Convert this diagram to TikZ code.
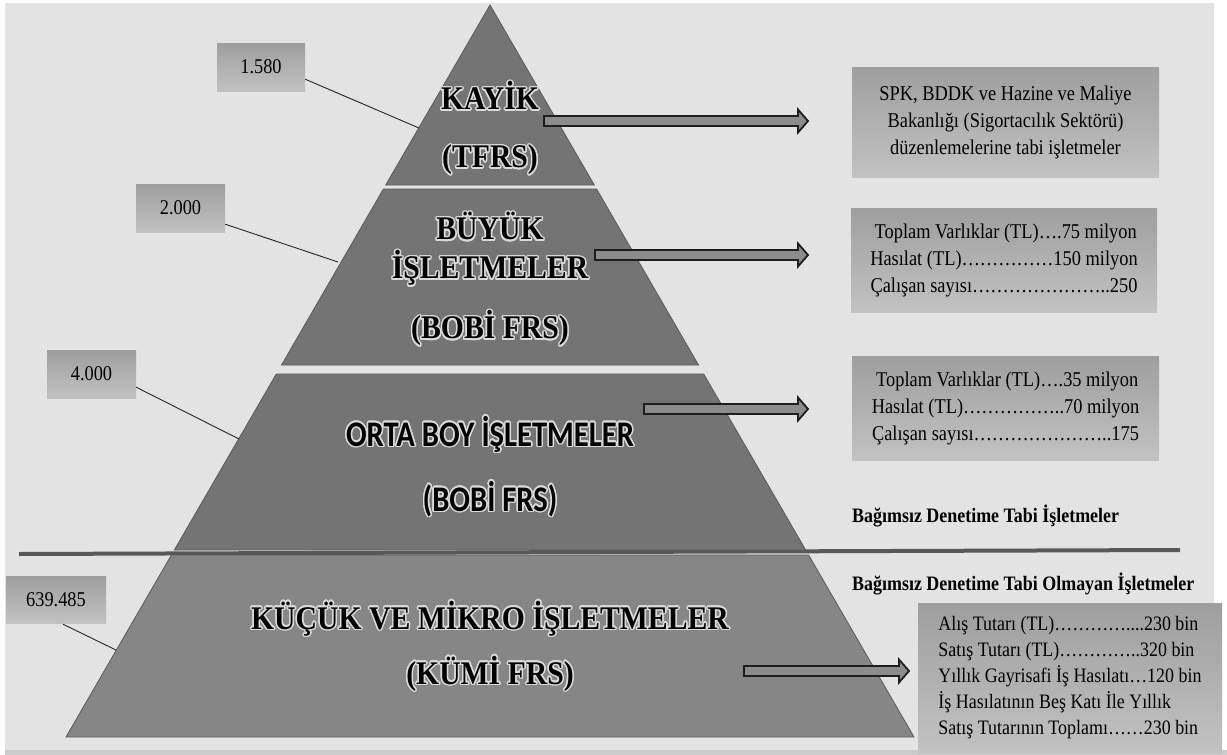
\documentclass[tikz,border=0pt]{standalone}
\usepackage{fontspec}
\setmainfont{Liberation Serif}[FakeStretch=0.875]
\newfontfamily\titlefont{Liberation Serif}[FakeStretch=0.9]
\newfontfamily\calib{Carlito}[FakeStretch=0.85]
\usepackage{contour}
\contourlength{1.5pt}
\usetikzlibrary{calc}
\definecolor{bgc}{HTML}{E3E3E3}
\definecolor{tierc}{HTML}{747474}
\definecolor{tierlow}{HTML}{868686}
\definecolor{tieredge}{HTML}{5A5A5A}
\definecolor{glowc}{HTML}{DADADA}
\definecolor{boxtop}{HTML}{9E9E9E}
\definecolor{boxbot}{HTML}{C2C2C2}
\definecolor{arrowfill}{HTML}{8C8C8C}
\definecolor{arrowedge}{HTML}{1E1E1E}
\definecolor{divc}{HTML}{585858}
\newcommand{\glow}[1]{\contour{glowc}{#1}}
\newcommand{\blockarrow}[2]{%
  \draw[arrowst] ($(#1)+(0,-5)$) -- ($(#2)+(-10,-5)$) -- ($(#2)+(-10,-11.5)$) -- (#2)
    -- ($(#2)+(-10,11.5)$) -- ($(#2)+(-10,5)$) -- ($(#1)+(0,5)$) -- cycle;}
\tikzset{
  tier/.style={fill=tierc, draw=tieredge, line width=0.8pt},
  tierbottom/.style={fill=tierlow, draw=tieredge, line width=0.8pt},
  title/.style={font={\fontsize{33}{39}\selectfont\titlefont\bfseries}, align=center, text=black},
  numbox/.style={draw=none, top color=boxtop, bottom color=boxbot, minimum height=48pt,
    font={\fontsize{21}{22}\selectfont}, inner sep=0pt},
  infobox/.style={draw=none, top color=boxtop, bottom color=boxbot, inner sep=0pt,
    font={\fontsize{21}{27}\selectfont}},
  leader/.style={draw=black!85, line width=0.9pt},
  arrowst/.style={fill=arrowfill, draw=arrowedge, line width=1.8pt, line join=miter},
  sublabel/.style={font={\fontsize{20.5}{22}\selectfont\bfseries}, anchor=west, inner sep=0pt},
}
\begin{document}
\begin{tikzpicture}[x=1pt, y=-1pt]
\useasboundingbox (0,0) rectangle (1227,755);
\fill[white] (0,0) rectangle (1227,755);
\fill[bgc] (5,3) rectangle (1214,750);
\fill[black!20] (5,750) rectangle (1227,755);

% divider line behind the pyramid
\coordinate (dl) at (19,554);
\coordinate (dr) at (1180,550);
\draw[divc, line width=4pt] (dl) -- (dr);

% pyramid tiers
\path[tier] (490,5) -- (594.3,185) -- (385.7,185) -- cycle;
\path[tier] (383.4,189) -- (596.6,189) -- (698.5,365) -- (281.5,365) -- cycle;
\path[tier] (276.3,374) -- (703.7,374) -- (805.7,550) -- (174.3,550) -- cycle;
\path[tierbottom] (171.4,555) -- (808.6,555) -- (914,737) -- (66,737) -- cycle;

% titles
\node[title] (t1) at (490,129) {\glow{KAYİK}\\[19pt]\glow{(TFRS)}};
\node[title] (t2) at (490,280) {\glow{BÜYÜK}\\\glow{İŞLETMELER}\\[21pt]\glow{(BOBİ FRS)}};
\node[title, font={\fontsize{36}{39}\selectfont\calib\bfseries}] (t3) at (490,467)
  {\glow{ORTA BOY İŞLETMELER}\\[26pt]\glow{(BOBİ FRS)}};
\node[title] (t4) at (490,647) {\glow{KÜÇÜK VE MİKRO İŞLETMELER}\\[16pt]\glow{(KÜMİ FRS)}};

% number boxes
\node[numbox, minimum width=88pt] (n1) at (261,67) {1.580};
\node[numbox, minimum width=89pt] (n2) at (180.5,208) {2.000};
\node[numbox, minimum width=89pt] (n3) at (91.5,374) {4.000};
\node[numbox, minimum width=100pt, minimum height=47pt] (n4) at (56,599.5) {639.485};

% leader lines
\coordinate (e1) at (419,128);
\coordinate (e2) at (338,262);
\coordinate (e3) at (239,439);
\coordinate (e4) at (116,650);
\draw[leader] ($(n1.south east)+(0,-12)$) -- (e1);
\draw[leader] ($(n2.south east)+(0,-8)$) -- (e2);
\draw[leader] ($(n3.south east)+(0,-11)$) -- (e3);
\draw[leader] ($(n4.south)+(7,1)$) -- (e4);

% info boxes
\node[infobox, minimum width=307pt, minimum height=110pt, align=center] (b1) at (1005.5,122)
  {SPK, BDDK ve Hazine ve Maliye\\Bakanlığı (Sigortacılık Sektörü)\\düzenlemelerine tabi işletmeler};
\node[infobox, minimum width=306pt, minimum height=104pt, align=center] (b2) at (1004,260)
  {\,Toplam Varlıklar (TL)….75 milyon\\Hasılat (TL)……………150 milyon\\Çalışan sayısı…………………..250};
\node[infobox, minimum width=307pt, minimum height=104pt, align=center] (b3) at (1005.5,408)
  {\,Toplam Varlıklar (TL)….35 milyon\\Hasılat (TL)……………..70 milyon\\Çalışan sayısı…………………..175};
\node[infobox, minimum width=304pt, minimum height=150pt, align=left,
  font={\fontsize{20.5}{26}\selectfont}] (b4) at (1070,678)
  {Alış Tutarı (TL)…………....230 bin\\Satış Tutarı (TL)…………..320 bin\\Yıllık Gayrisafi İş Hasılatı…120 bin\\İş Hasılatının Beş Katı İle Yıllık\\Satış Tutarının Toplamı……230 bin};

% arrows
\coordinate (s1) at (544,121);  \coordinate (f1) at (808,121);
\coordinate (s2) at (595,255);  \coordinate (f2) at (808,255);
\coordinate (s3) at (644,409);  \coordinate (f3) at (808,409);
\coordinate (s4) at (744,671);  \coordinate (f4) at (909,671);
\blockarrow{s1}{f1}
\blockarrow{s2}{f2}
\blockarrow{s3}{f3}
\blockarrow{s4}{f4}

% audit labels
\node[sublabel] (l1) at (852,516) {Bağımsız Denetime Tabi İşletmeler};
\node[sublabel] (l2) at (852,584) {Bağımsız Denetime Tabi Olmayan İşletmeler};
\end{tikzpicture}
\end{document}
